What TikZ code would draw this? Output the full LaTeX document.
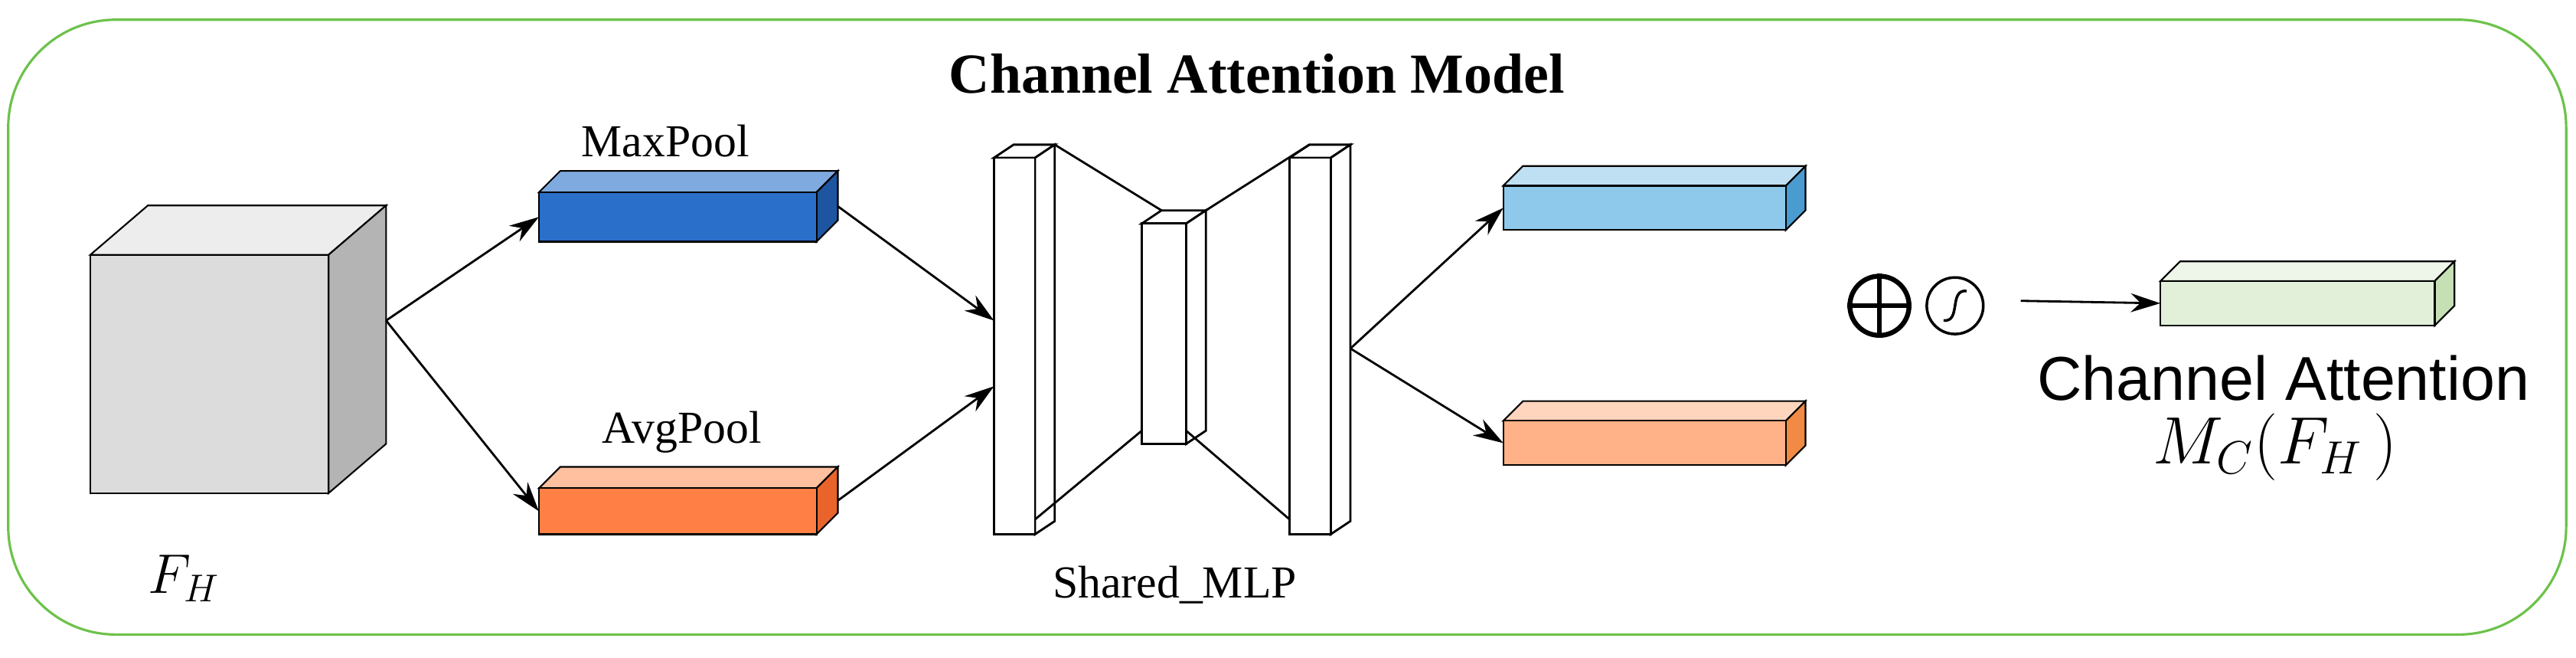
\documentclass[tikz,border=0pt]{standalone}
\usepackage{fontspec}
\setmainfont{Liberation Serif}
\newfontfamily\sansf{Liberation Sans}
\usetikzlibrary{arrows.meta,calc}
\definecolor{gbord}{HTML}{6CC24A}
\definecolor{cubeF}{HTML}{DCDCDC}
\definecolor{cubeT}{HTML}{EDEDED}
\definecolor{cubeS}{HTML}{B4B4B4}
\definecolor{mpF}{HTML}{2A6FC9}
\definecolor{mpT}{HTML}{7FAAE0}
\definecolor{mpS}{HTML}{1D55A0}
\definecolor{apF}{HTML}{FF7F45}
\definecolor{apT}{HTML}{FFC0A0}
\definecolor{apS}{HTML}{E8642A}
\definecolor{obF}{HTML}{8EC8EA}
\definecolor{obT}{HTML}{BFE0F3}
\definecolor{obS}{HTML}{4A9BD0}
\definecolor{ooF}{HTML}{FFB287}
\definecolor{ooT}{HTML}{FFD5BD}
\definecolor{ooS}{HTML}{F08A45}
\definecolor{ogF}{HTML}{E2F0DA}
\definecolor{ogT}{HTML}{EEF6EA}
\definecolor{ogS}{HTML}{C5E0B5}
\tikzset{
  arr/.style={-{Stealth[length=11pt,width=7pt]}, line width=0.8pt},
  edge/.style={line width=0.8pt},
  lbl/.style={font=\fontsize{17}{17}\selectfont, inner sep=0},
}
\newcommand{\mybar}[9]{%
  \fill[#7,draw=black,line width=0.6pt] (#1,#2) -- ++(#5,-#5) -- (#3+#5,#2-#5) -- (#3,#2) -- cycle;
  \fill[#8,draw=black,line width=0.6pt] (#3,#2) -- (#3+#5,#2-#5) -- (#3+#5,#4-#5) -- (#3,#4) -- cycle;
  \fill[#6,draw=black,line width=0.6pt] (#1,#2) rectangle (#3,#4);
  \coordinate (#9-w) at (#1,{(#2+#4)/2});
  \coordinate (#9-e) at (#3+#5,{(#2+#4)/2-#5/2});
}
\newcommand{\slab}[5]{%
  \draw[edge,fill=white] (#1,#2) -- ++(12,-8) -- (#3+12,#2-8) -- (#3,#2) -- cycle;
  \draw[edge,fill=white] (#3,#2) -- (#3+12,#2-8) -- (#3+12,#4-8) -- (#3,#4) -- cycle;
  \draw[edge,fill=white] (#1,#2) rectangle (#3,#4);
}
\begin{document}
\begin{tikzpicture}[x=0.02146cm,y=-0.02146cm]
\useasboundingbox (0,0) rectangle (1568,400);
\draw[gbord,line width=0.9pt,rounded corners=40] (5,12) rectangle (1562,386);
\node[font=\bfseries\fontsize{21}{21}\selectfont] (title) at (765,45) {Channel Attention Model};
\fill[cubeT,draw=black,line width=0.6pt] (55,155) -- (90,125) -- (235,125) -- (200,155) -- cycle;
\fill[cubeS,draw=black,line width=0.6pt] (200,155) -- (235,125) -- (235,270) -- (200,300) -- cycle;
\fill[cubeF,draw=black,line width=0.6pt] (55,155) rectangle (200,300);
\coordinate (cube) at (235,195);
\node[font=\fontsize{22}{22}\selectfont] (fh) at (112,352) {$F_H$};
\mybar{328}{117}{497}{147}{13}{mpF}{mpT}{mpS}{mp}
\node[lbl] (mpl) at (405,86) {MaxPool};
\mybar{328}{297}{497}{325}{13}{apF}{apT}{apS}{ap}
\node[lbl] (apl) at (415,263) {AvgPool};
\slab{605}{96}{630}{325}{}
\slab{695}{136}{722}{270}{}
\slab{785}{96}{810}{325}{}
\draw[edge] (642,88) -- (707,128);
\draw[edge] (630,316) -- (695,262);
\draw[edge] (734,128) -- (797,88);
\draw[edge] (722,262) -- (785,316);
\coordinate (mlpin1) at (605,195);
\coordinate (mlpin2) at (605,235);
\coordinate (mlpout) at (822,212);
\node[lbl] (mlpl) at (715,356) {Shared\_MLP};
\mybar{915}{113}{1087}{140}{12}{obF}{obT}{obS}{ob}
\mybar{915}{256}{1087}{283}{12}{ooF}{ooT}{ooS}{oo}
\draw[arr] (cube) -- (mp-w);
\draw[arr] (cube) -- (ap-w);
\draw[arr] (mp-e) -- (mlpin1);
\draw[arr] (ap-e) -- (mlpin2);
\draw[arr] (mlpout) -- (ob-w);
\draw[arr] (mlpout) -- (oo-w);
\node[circle,draw,line width=1.8pt,minimum size=22pt,inner sep=0] (plus) at (1144,186) {};
\draw[line width=1.8pt] (plus.north) -- (plus.south) (plus.west) -- (plus.east);
\node[circle,draw,line width=1pt,minimum size=21pt,inner sep=0] (sig) at (1190,186) {};
\draw[line width=1pt] ($(sig)+(-7,9)$) .. controls ($(sig)+(4,10)$) and ($(sig)+(-4,-10)$) .. ($(sig)+(7,-9)$);
\mybar{1315}{171}{1482}{198}{12}{ogF}{ogT}{ogS}{og}
\coordinate (sigout) at (1230,183);
\draw[arr] (sigout) -- (og-w);
\node[font=\sansf\fontsize{23}{23}\selectfont] (cal) at (1390,230) {Channel Attention};
\node[font=\fontsize{23}{23}\selectfont] (mc) at (1385,272) {$M_C(F_H\,)$};
\end{tikzpicture}
\end{document}
